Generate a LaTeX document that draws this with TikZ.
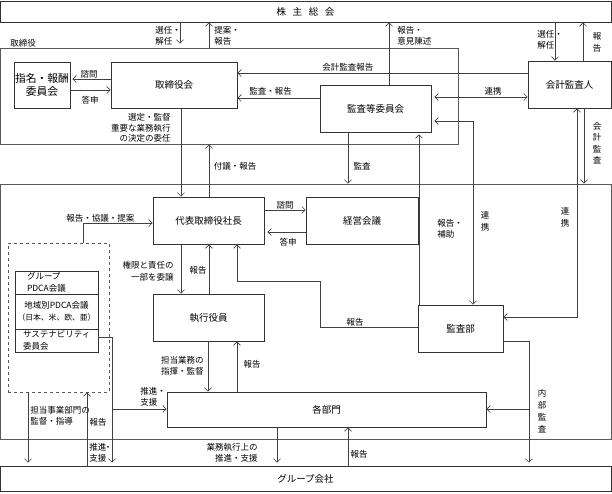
\documentclass[tikz,border=0pt]{standalone}
\usepackage{fontspec}
\setmainfont{Noto Sans CJK JP}
\usetikzlibrary{arrows.meta}

\begin{document}
\begin{tikzpicture}[x=1pt,y=-1pt,line width=0.6pt,
  >={Straight Barb[length=3.5pt,width=7pt]},
  flow/.style={->,draw=black!75},
  twoway/.style={<->,draw=black!75},
  box/.style={draw=black!80,line width=0.8pt,inner sep=0pt,font=\fontsize{9.5}{11.5}\selectfont},
  frame/.style={draw=black!65,line width=0.8pt,inner sep=0pt},
  lbl/.style={inner sep=0pt,font=\fontsize{8.5}{11.5}\selectfont},
  vlbl/.style={inner sep=0pt,align=center,font=\fontsize{8.5}{12}\selectfont}]
\useasboundingbox (0,0) rectangle (612,493);

\node[frame, minimum width=457.5pt, minimum height=96pt] (torif) at (229.25,96) {};
\node[frame, minimum width=610.5pt, minimum height=255pt] (shikf) at (305.75,311.5) {};
\node[frame, dashed, minimum width=101pt, minimum height=149pt] (pdca) at (58.5,317.5) {};
\node[lbl, anchor=west] (torilbl) at (10,43) {取締役};

\node[box, minimum width=611pt, minimum height=21pt] (soukai) at (305.5,11.5) {株\hspace{0.7em}主\hspace{0.7em}総\hspace{0.7em}会};
\node[box, minimum width=56pt, minimum height=46pt, align=center, font=\fontsize{10.8}{13.5}\selectfont] (shimei) at (42,85) {指名・報酬\\委員会};
\node[box, minimum width=126pt, minimum height=46pt] (torikai) at (174,85) {取締役会};
\node[box, minimum width=111pt, minimum height=47pt] (kansaiin) at (375.5,108.5) {監査等委員会};
\node[box, minimum width=83pt, minimum height=47pt] (kaikei) at (569.5,84.5) {会計監査人};
\node[box, minimum width=111pt, minimum height=47pt] (shacho) at (208.5,220.5) {代表取締役社長};
\node[box, minimum width=112pt, minimum height=47pt] (keiei) at (362,220.5) {経営会議};
\node[box, minimum width=111pt, minimum height=47pt] (shikko) at (208.5,317.5) {執行役員};
\node[box, minimum width=85pt, minimum height=47pt] (kansabu) at (460.5,328.5) {監査部};
\node[box, minimum width=319pt, minimum height=35pt] (bumon) at (326.5,409.5) {各部門};
\node[box, minimum width=611pt, minimum height=25pt] (group) at (305.5,478.5) {グループ会社};
\node[box, minimum width=83pt, minimum height=23pt, text width=59pt, align=left, font=\fontsize{8.5}{11.5}\selectfont] (gpdca) at (56.5,282.5) {グループ\\PDCA会議};
\node[box, minimum width=83pt, minimum height=35pt, align=center, font=\fontsize{8.5}{12}\selectfont] (chiiki) at (56.5,311.5) {地域別PDCA会議\\{\fontsize{7.8}{12}\selectfont（日本、米、欧、亜）}};
\node[box, minimum width=83pt, minimum height=23pt, text width=67pt, align=left, font=\fontsize{8.5}{11.5}\selectfont] (sus) at (56.5,340.5) {サステナビリティ\\委員会};

\draw[flow, shorten >=4pt] (180,0 |- soukai.south) -- (180,0 |- torif.north);
\node[lbl, anchor=west, align=left] (l1) at (155,36) {選任・\\解任};
\draw[flow] (209,0 |- torif.north) -- (209,0 |- soukai.south);
\node[lbl, anchor=west, align=left] (l2) at (214,36) {提案・\\報告};
\draw[flow, shorten >=2pt] (torikai.west |- 0,79) -- (shimei.east |- 0,79);
\node[lbl] (l3) at (89,74) {諮問};
\draw[flow] (shimei.east |- 0,90) -- (torikai.west |- 0,90);
\node[lbl] (l4) at (90,100) {答申};
\draw[flow] (181,0 |- torikai.south) -- (181,0 |- shacho.north);
\node[lbl, anchor=east, align=right, font=\fontsize{8.5}{10.7}\selectfont] (l5) at (171,128) {選定・監督\\重要な業務執行\\の決定の委任};
\draw[flow] (209,0 |- shacho.north) -- (209,0 |- torif.south);
\node[lbl] (l6) at (235,166) {付議・報告};
\draw[flow] (kaikei.west |- 0,73) -- (torikai.east |- 0,73);
\node[lbl, anchor=west] (l7) at (322,67) {会計監査報告};
\draw[flow] (kansaiin.west |- 0,98) -- (torikai.east |- 0,98);
\node[lbl, anchor=west] (l8) at (249,91) {監査・報告};
\draw[flow] (389,0 |- kansaiin.north) -- (389,0 |- soukai.south);
\node[lbl, anchor=west, align=left] (l9) at (397,36) {報告・\\意見陳述};
\draw[flow] (555,0 |- soukai.south) -- (555,0 |- kaikei.north);
\node[lbl, anchor=west, align=left] (l10) at (537,40) {選任・\\解任};
\draw[flow] (583,0 |- kaikei.north) -- (583,0 |- soukai.south);
\node[vlbl] (l11) at (597,42) {報\\告};
\draw[twoway, shorten <=3pt] (kansaiin.east |- 0,97) -- (kaikei.west |- 0,97);
\node[lbl] (l12) at (493,91) {連携};
\draw[flow] (584,0 |- kaikei.south) -- (584,0 |- shikf.north);
\node[vlbl, font=\fontsize{8.5}{11.5}\selectfont] (l13) at (597,143) {会\\計\\監\\査};
\draw[twoway] (kansabu.east |- 0,317) -| (577,0 |- kaikei.south);
\node[vlbl] (l14) at (565,217) {連\\携};
\draw[flow] (348,0 |- kansaiin.south) -- (348,0 |- shikf.north);
\node[lbl] (l15) at (362,166) {監査};
\draw[flow, shorten >=2pt] (419,0 |- kansabu.north) -- (419,0 |- kansaiin.south);
\node[lbl, anchor=west, align=left] (l16) at (437,229) {報告・\\補助};
\draw[twoway, shorten <=3pt] (kansaiin.east |- 0,121) -| (473,0 |- kansabu.north);
\node[vlbl] (l17) at (485,221) {連\\携};

\draw[flow] (shacho.east |- 0,210) -- (keiei.west |- 0,210);
\node[lbl] (l18) at (285,205) {諮問};
\draw[flow, shorten >=3pt] (keiei.west |- 0,232) -- (shacho.east |- 0,232);
\node[lbl] (l19) at (288,242) {答申};
\draw[flow] (83,0 |- pdca.north) |- (shacho.west |- 0,223);
\node[lbl, anchor=west] (l20) at (66,218) {報告・協議・提案};
\draw[flow] (kansabu.west |- 0,327) -| (320,281) -| (237,0 |- shacho.south);
\node[lbl] (l21) at (355,322) {報告};
\draw[flow] (181,0 |- shacho.south) -- (181,0 |- shikko.north);
\node[lbl, anchor=east, align=right] (l22) at (174,271) {権限と責任の\\一部を委譲};
\draw[flow] (209,0 |- shikko.north) -- (209,0 |- shacho.south);
\node[lbl] (l23) at (198,270) {報告};
\draw[flow] (208,0 |- shikko.south) -- (208,0 |- bumon.north);
\node[lbl, anchor=east, align=right] (l24) at (204,366) {担当業務の\\指揮・監督};
\draw[flow] (237,0 |- bumon.north) -- (237,0 |- shikko.south);
\node[lbl] (l25) at (252,364) {報告};

\coordinate (suien) at (112,409);
\draw[flow, shorten >=3pt] (sus.east |- 0,337) -| (112,0 |- group.north);
\draw[flow] (suien) -- (bumon.west |- suien);
\node[lbl, anchor=west, align=left] (l26) at (140,397) {推進・\\支援};
\node[lbl, anchor=west, align=left] (l27) at (89,453) {推進\kern-2.5pt・\\支援};
\draw[flow, shorten >=3pt] (28,0 |- pdca.south) -- (28,0 |- group.north);
\node[lbl, anchor=west, align=left] (l28) at (30,416) {担当事業部門の\\監督・指導};
\draw[flow] (87,0 |- group.north) -- (87,0 |- pdca.south);
\node[lbl] (l29) at (98,422) {報告};
\draw[flow, shorten >=3pt] (277,0 |- bumon.south) -- (277,0 |- group.north);
\node[lbl, anchor=east, align=right] (l30) at (258,453) {業務執行上の\\推進・支援};
\draw[flow] (348,0 |- group.north) -- (348,0 |- bumon.south);
\node[lbl] (l31) at (359,454) {報告};
\coordinate (naibu) at (529,409);
\draw[flow, shorten >=3pt] (kansabu.east |- 0,341) -| (529,0 |- group.north);
\draw[flow] (naibu) -- (bumon.east |- naibu);
\node[vlbl] (l32) at (542,411) {内\\部\\監\\査};
\end{tikzpicture}
\end{document}
